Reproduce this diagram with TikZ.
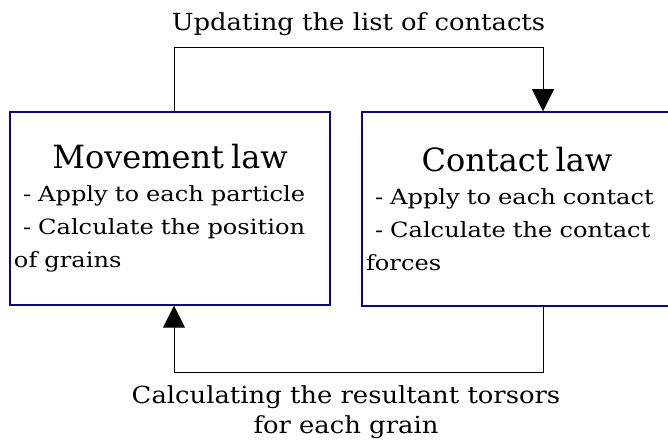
\documentclass[tikz,border=0pt]{standalone}
\usepackage{fontspec}
\setmainfont{DejaVu Serif}
\newfontfamily\bodyserif[FakeStretch=1.15]{DejaVu Serif}
\newfontfamily\labelserif[FakeStretch=1.1]{DejaVu Serif}
\usetikzlibrary{arrows.meta}
\definecolor{boxnavy}{RGB}{10,10,120}
\newcommand\lawtitle{\rmfamily\fontsize{32}{33}\selectfont}
\tikzset{
  lawbox/.style={draw=boxnavy, line width=1.5pt, inner xsep=4pt, align=left,
    font=\bodyserif\fontsize{21}{33}\selectfont},
  flow/.style={draw, line width=1pt, -{Triangle[width=22pt,length=22pt]}},
  looplabel/.style={font=\labelserif\fontsize{23.5}{30}\selectfont, align=center}
}
\begin{document}
\begin{tikzpicture}[x=1pt,y=1pt]
    \useasboundingbox (0,0) rectangle (668,444);
    \node[lawbox, minimum width=320pt, minimum height=193pt, text width=312pt] (movement) at (170,235.5)
        {\parindent0pt\hyphenpenalty10000{\centering\lawtitle Movement law\par}\hspace*{9pt}- Apply to each particle\\\hspace*{9pt}- Calculate the position\\of grains};
    \node[lawbox, minimum width=310pt, minimum height=194pt, text width=302pt] (contact)  at (517,235)
        {\parindent0pt\hyphenpenalty10000{\centering\lawtitle Contact law\par}\hspace*{9pt}- Apply to each contact\\\hspace*{9pt}- Calculate the contact\\forces};
    \node[looplabel, anchor=base] (update) at (358.5,413) {Updating the list of contacts};
    \node[looplabel] (torsors) at (346,32) {Calculating the resultant torsors\\for each grain};
    \draw[flow] ([xshift=4pt]movement.north) -- ++(0,64) -| ([xshift=26pt]contact.north);
    \draw[flow] ([xshift=26pt]contact.south) -- ++(0,-66) -| ([xshift=4pt]movement.south);
\end{tikzpicture}
\end{document}
